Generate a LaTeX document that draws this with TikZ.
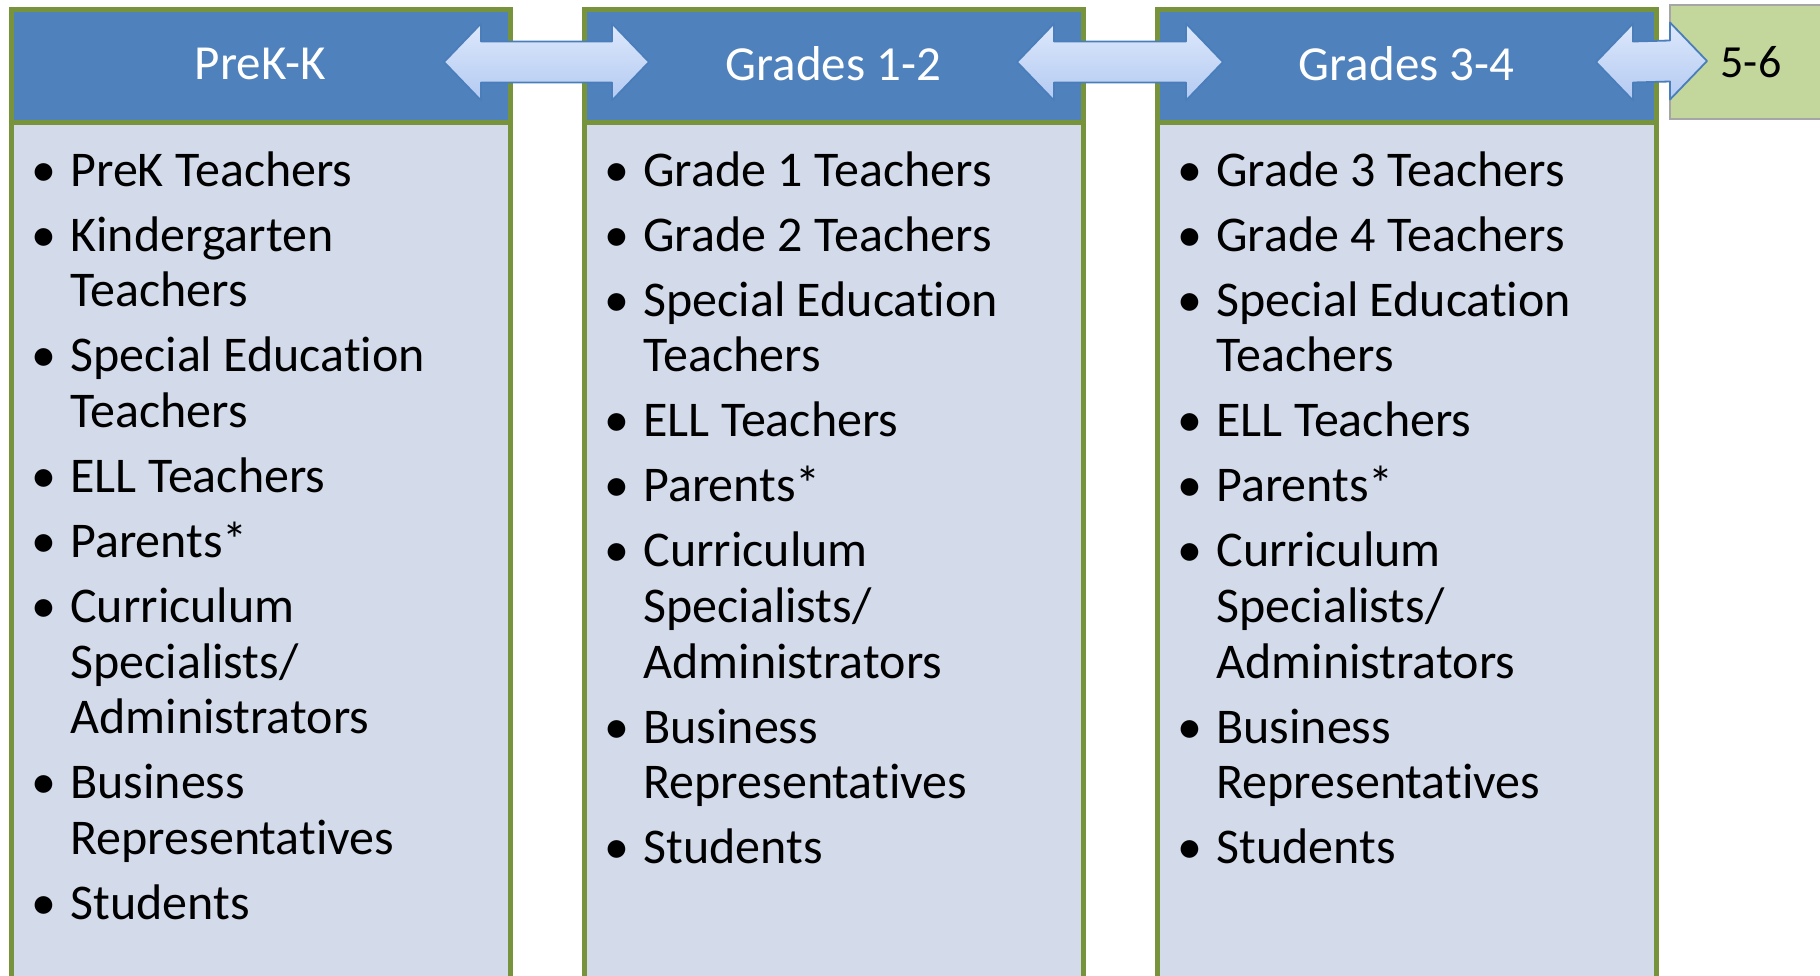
\documentclass[tikz,border=0pt]{standalone}
\usepackage{fontspec}
\setmainfont{Carlito}[Ligatures={NoCommon,NoContextual},Contextuals=NoAlternate]
\usetikzlibrary{calc}

\definecolor{headblue}{HTML}{4F81BD}
\definecolor{bodyblue}{HTML}{D3DBEA}
\definecolor{frame}{HTML}{77933C}
\definecolor{nextgreen}{HTML}{C3D69B}
\definecolor{arrowtop}{HTML}{DDE8FB}
\definecolor{arrowbot}{HTML}{B3CAF2}
\definecolor{arrowline}{HTML}{4A7EBB}

\newcommand{\bul}{\makebox[12pt]{\textbullet}}
\newcommand{\nx}{\\[4.65pt]}
% fat double arrow between two tips
\newcommand{\twoway}[2]{\path[dbl] (#1) -- ++(37,-38.5) -- ++(0,18)
  -- ($(#2)+(-37,-20.5)$) -- ++(0,-18) -- (#2) -- ++(-37,38.5) -- ++(0,-18)
  -- ($(#1)+(37,20.5)$) -- ++(0,18) -- cycle;}

\begin{document}
\begin{tikzpicture}[x=0.5pt,y=-0.5pt,
    head/.style={rectangle,draw=frame,line width=2.5pt,fill=headblue,outer sep=0pt,
      minimum width=249.5pt,minimum height=56.5pt,inner sep=0pt,anchor=north west,
      text=white,text depth=2.5pt,font=\fontsize{24.5}{29}\selectfont},
    body/.style={rectangle,draw=frame,line width=2.5pt,fill=bodyblue,outer sep=0pt,
      minimum width=249.5pt,minimum height=431pt,anchor=north west},
    next/.style={rectangle,draw=black!35,line width=0.6pt,fill=nextgreen,outer sep=0pt,
      minimum width=81pt,minimum height=57pt,inner sep=0pt,anchor=north west,
      font=\fontsize{23}{27}\selectfont},
    list/.style={anchor=base west,inner sep=0pt,font=\fontsize{25}{27.85}\selectfont},
    dbl/.style={draw=arrowline,line width=0.9pt,top color=arrowtop,
      bottom color=arrowbot,line join=round}]
  \useasboundingbox (0,0) rectangle (1820,975);

  \node[body] (b1) at (11,122.5) {};
  \node[body] (b2) at (584,122.5) {};
  \node[body] (b3) at (1157,122.5) {};

  \node[head] (h1) at (11,9.5) {PreK-K};
  \node[head] (h2) at (584,9.5) {Grades 1-2};
  \node[head] (h3) at (1157,9.5) {Grades 3-4};
  \node[next] (g) at (1670,5) {5-6};

  \node[list] (l1) at (32,186) {\begin{tabular}[t]{@{}l@{\hspace{7pt}}l@{}}
    \bul & PreK Teachers\nx
    \bul & Kindergarten\\ & Teachers\nx
    \bul & Special Education\\ & Teachers\nx
    \bul & ELL Teachers\nx
    \bul & Parents*\nx
    \bul & Curriculum\\ & Specialists/\\ & Administrators\nx
    \bul & Business\\ & Representatives\nx
    \bul & Students
  \end{tabular}};
  \node[list] (l2) at (605,186) {\begin{tabular}[t]{@{}l@{\hspace{7pt}}l@{}}
    \bul & Grade 1 Teachers\nx
    \bul & Grade 2 Teachers\nx
    \bul & Special Education\\ & Teachers\nx
    \bul & ELL Teachers\nx
    \bul & Parents*\nx
    \bul & Curriculum\\ & Specialists/\\ & Administrators\nx
    \bul & Business\\ & Representatives\nx
    \bul & Students
  \end{tabular}};
  \node[list] (l3) at (1178,186) {\begin{tabular}[t]{@{}l@{\hspace{7pt}}l@{}}
    \bul & Grade 3 Teachers\nx
    \bul & Grade 4 Teachers\nx
    \bul & Special Education\\ & Teachers\nx
    \bul & ELL Teachers\nx
    \bul & Parents*\nx
    \bul & Curriculum\\ & Specialists/\\ & Administrators\nx
    \bul & Business\\ & Representatives\nx
    \bul & Students
  \end{tabular}};

  % arrows between the bands
  \coordinate (a1) at ($(h1.east)+(-66,-4)$);
  \coordinate (a2) at ($(h2.west)+(65,-4)$);
  \coordinate (a3) at ($(h2.east)+(-66,-4)$);
  \coordinate (a4) at ($(h3.west)+(66,-4)$);
  \coordinate (a5) at ($(h3.east)+(-60,-4)$);
  \coordinate (a6) at ($(g.west)+(37,-1)$);
  \twoway{a1}{a2}
  \twoway{a3}{a4}
  \twoway{a5}{a6}
\end{tikzpicture}
\end{document}
